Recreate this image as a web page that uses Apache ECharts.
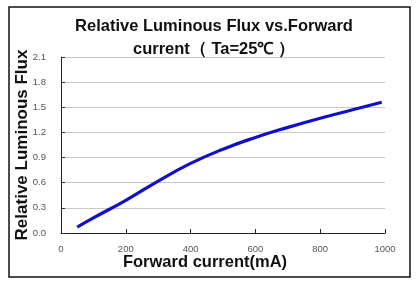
<!DOCTYPE html>
<html><head><meta charset="utf-8">
<script src="https://cdn.jsdelivr.net/npm/echarts@6/dist/echarts.min.js"></script>
<style>html,body{margin:0;padding:0;background:#fff}#c{width:416px;height:302px}</style>
</head><body><div id="c"></div>
<script>
const titleLines = ["Relative Luminous Flux vs.Forward", "current（ Ta=25℃ ）"];
const xName = "Forward current(mA)";
const yName = "Relative Luminous Flux";
const currents = [50, 100, 200, 300, 400, 500, 600, 700, 800, 900, 990];
const flux = [0.07, 0.18, 0.39, 0.62, 0.83, 1.0, 1.14, 1.26, 1.37, 1.47, 1.56];
const xTicks = [0, 200, 400, 600, 800, 1000];
const yTicks = [0.0, 0.3, 0.6, 0.9, 1.2, 1.5, 1.8, 2.1];

const chart = echarts.init(document.getElementById('c'), null, {renderer: 'canvas'});
chart.setOption({
  animation: false,
  backgroundColor: '#fff',
  title: {
    text: titleLines.join('\n'),
    left: 209, top: 10, textAlign: 'center',
    textStyle: {fontFamily: 'Liberation Sans, Arial', fontWeight: 'bold', fontSize: 16.5, color: '#111', lineHeight: 23}
  },
  graphic: [{
    type: 'rect', shape: {x: 9, y: 7, width: 401, height: 270},
    style: {fill: 'none', stroke: '#111', lineWidth: 1.5}, silent: true
  }],
  grid: {left: 61, right: 31, top: 57, bottom: 69, outerBoundsMode: 'none', containLabel: false},
  xAxis: {
    type: 'value', min: 0, max: 1000, interval: 200,
    name: xName, nameLocation: 'middle', nameGap: 21, nameMoveOverlap: false,
    nameTextStyle: {fontFamily: 'Liberation Sans, Arial', fontWeight: 'bold', fontSize: 16.5, color: '#111', padding: [0, 36, 0, 0]},
    axisLine: {lineStyle: {color: '#222', width: 1}},
    axisTick: {show: true, inside: true, length: 4, lineStyle: {color: '#222'}},
    axisLabel: {fontFamily: 'Liberation Sans, Arial', fontSize: 9.5, color: '#555', margin: 11,
      formatter: v => xTicks.includes(v) ? String(v) : ''},
    splitLine: {show: false}
  },
  yAxis: {
    type: 'value', min: 0, max: 2.1, interval: 0.3,
    name: yName, nameLocation: 'middle', nameGap: 30, nameMoveOverlap: false,
    nameTextStyle: {fontFamily: 'Liberation Sans, Arial', fontWeight: 'bold', fontSize: 17, color: '#111'},
    axisLine: {show: true, lineStyle: {color: '#222', width: 1}},
    axisTick: {show: true, inside: true, length: 4, lineStyle: {color: '#333'}},
    axisLabel: {fontFamily: 'Liberation Sans, Arial', fontSize: 9.5, color: '#555', margin: 15,
      formatter: v => { const t = yTicks.find(k => Math.abs(k - v) < 1e-6); return t === undefined ? '' : t.toFixed(1); }},
    splitLine: {show: true, lineStyle: {color: '#c8c8c8', width: 1}}
  },
  series: [{
    type: 'line', data: currents.map((c, i) => [c, flux[i]]),
    smooth: true, showSymbol: false,
    lineStyle: {color: '#1010c8', width: 3.2}
  }]
});
</script></body></html>
